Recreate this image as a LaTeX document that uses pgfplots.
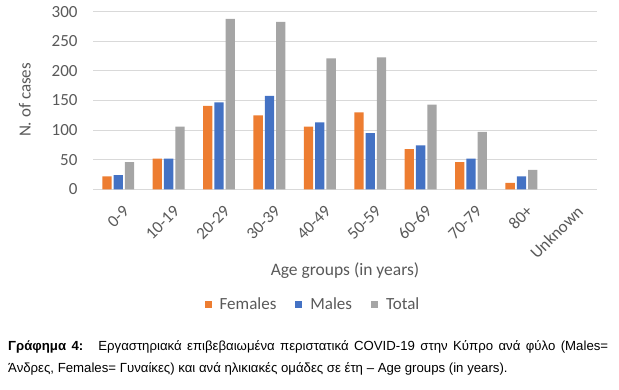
\documentclass[border=0pt]{standalone}
\usepackage{fontspec}
\setmainfont{Carlito}
\newfontfamily\capfont{Liberation Sans}
\usepackage{pgfplots}
\pgfplotsset{compat=1.18}
\definecolor{cF}{HTML}{ED7D31}
\definecolor{cM}{HTML}{4472C4}
\definecolor{cT}{HTML}{A5A5A5}
\definecolor{grd}{HTML}{D9D9D9}
\definecolor{txt}{HTML}{595959}
\begin{document}
\begin{tikzpicture}
\useasboundingbox (0,0) rectangle (619bp,390bp);
\begin{axis}[
  at={(93bp,200.7bp)}, anchor=south west,
  scale only axis, width=504bp, height=177.6bp,
  ybar=2bp, bar width=9.3bp,
  xmin=-0.5, xmax=9.5, ymin=0, ymax=300,
  ytick={0,50,...,300},
  xtick={0,...,9},
  xticklabels={0-9,10-19,20-29,30-39,40-49,50-59,60-69,70-79,80+,Unknown},
  major tick length=0pt,
  axis line style={draw=none},
  ymajorgrids, major grid style={grd, line width=0.9bp},
  /pgf/number format/assume math mode=true,
  tick label style={font=\fontsize{17bp}{19bp}\selectfont, text=txt},
  yticklabel style={anchor=east, xshift=-12bp},
  xticklabel style={xshift=4bp, yshift=-15bp, rotate=45, anchor=north east, inner sep=0pt},
  xlabel={Age groups (in years)},
  xlabel style={at={(axis description cs:0.5,-0.488)}, anchor=base, font=\fontsize{17.5bp}{19bp}\selectfont, text=txt},
  ylabel={N. of cases},
  ylabel style={at={(axis description cs:-0.135,0.503)}, anchor=center, rotate=0, font=\fontsize{17bp}{19bp}\selectfont, text=txt},
  legend columns=3,
  legend style={at={(axis description cs:0.4365,-0.646)}, anchor=center, draw=none, fill=none,
    font=\fontsize{17bp}{19bp}\selectfont, text=txt,
    /tikz/every even column/.append style={column sep=17bp},
    /tikz/every odd column/.append style={column sep=6bp},
    nodes={inner sep=2bp}},
  legend image code/.code={\fill[#1,draw=none] (0bp,-3.5bp) rectangle (7bp,3.5bp);},
]
\addplot[fill=cF, draw=none] coordinates {(0,22) (1,52) (2,141) (3,125) (4,106) (5,130) (6,68) (7,46) (8,11)};
\addplot[fill=cM, draw=none] coordinates {(0,24) (1,52) (2,147) (3,158) (4,113) (5,95) (6,74) (7,52) (8,22)};
\addplot[fill=cT, draw=none] coordinates {(0,46) (1,106) (2,288) (3,283) (4,221) (5,223) (6,143) (7,97) (8,33)};
\legend{Females,Males,Total}
\end{axis}
\node[anchor=north west, inner sep=0pt, text width=600bp, align=justify, font=\capfont\fontsize{13.2bp}{22bp}\selectfont] at (8bp,50bp)
{\hyphenpenalty=10000 \textbf{Γράφημα 4:}\hspace{0.5em} Εργαστηριακά επιβεβαιωμένα περιστατικά COVID-19 στην Κύπρο ανά φύλο (Males=\linebreak Άνδρες, Females= Γυναίκες) και ανά ηλικιακές ομάδες σε έτη – Age groups (in years).};
\end{tikzpicture}
\end{document}
